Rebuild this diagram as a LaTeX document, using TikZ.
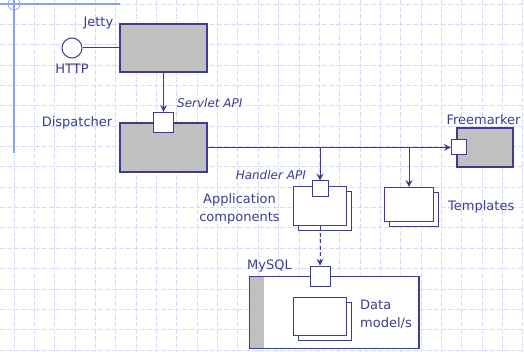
\documentclass[tikz,border=0pt]{standalone}
\usepackage{fontspec}
\setmainfont{DejaVu Sans}
\usepackage{tikz}
\usetikzlibrary{arrows.meta,positioning}

\definecolor{navy}{RGB}{60,60,145}
\definecolor{compgray}{RGB}{192,192,192}
\definecolor{gridblue}{RGB}{212,220,250}
\definecolor{railblue}{RGB}{140,162,240}

\begin{document}
\begin{tikzpicture}[
x=1pt, y=-1pt,
comp/.style={
    rectangle,
    draw=navy,
    line width=1.1pt,
    fill=compgray,
    inner sep=0pt
},
artifact/.style={
    rectangle,
    draw=navy,
    line width=1pt,
    fill=white,
    inner sep=0pt
},
port/.style={
    rectangle,
    draw=navy,
    line width=1pt,
    fill=white,
    inner sep=0pt
},
lbl/.style={
    text=navy,
    inner sep=1pt,
    font=\fontsize{13}{18}\selectfont
},
api/.style={
    text=navy,
    inner sep=1pt,
    font=\fontsize{12}{14}\selectfont\itshape
},
arr/.style={-{Stealth[length=7pt,width=7pt,inset=2.5pt]}, draw=navy, line width=1pt}
]
\useasboundingbox (0,0) rectangle (524,352);

% slide background
\foreach \k in {0,...,25}
    \draw[gridblue, line width=0.8pt, dash pattern=on 5pt off 2pt] (14+20.35*\k,0) -- (14+20.35*\k,352);
\foreach \k in {0,...,17}
    \draw[gridblue, line width=0.8pt, dash pattern=on 5pt off 2pt] (0,4+20.35*\k) -- (524,4+20.35*\k);
\draw[railblue, line width=2pt] (0,4) -- (120,4);
\draw[railblue, line width=2pt] (14,0) -- (14,153);
\draw[railblue, line width=0.8pt] (14,4) circle[radius=6];

% components
\node[comp, minimum width=87pt, minimum height=48pt] (jetty) at (163.5,48) {};
\node[comp, minimum width=87pt, minimum height=49pt] (dispatcher) at (163.5,147.5) {};
\node[port, minimum size=20pt] (dport) at (dispatcher.north) {};
\node[comp, minimum width=56pt, minimum height=39pt] (freemarker) at (485,147.5) {};
\node[port, minimum size=15pt] (fport) at ([xshift=2.5pt]freemarker.west) {};
\node[circle, draw=navy, line width=1pt, fill=white, minimum size=20pt, inner sep=0pt] (http) at (72,48) {};

% application components
\node[artifact, minimum width=53pt, minimum height=39pt] (aback) at (325,211.5) {};
\node[artifact, minimum width=53pt, minimum height=39pt] (afront) at (320,206.5) {};
\node[port, minimum size=16pt] (aport) at (320,189) {};

% templates
\node[artifact, minimum width=49pt, minimum height=34pt] (tback) at (414,209.5) {};
\node[artifact, minimum width=49pt, minimum height=34pt] (tfront) at (409,204.5) {};

% database
\node[artifact, minimum width=168.7pt, minimum height=71.6pt] (mysql) at (334.3,312.5) {};
\fill[compgray] ([shift={(0.5pt,-0.5pt)}]mysql.north west) rectangle ([xshift=15pt, yshift=0.5pt]mysql.south west);
\draw[navy, line width=1pt] (mysql.north west) rectangle (mysql.south east);
\node[port, minimum size=20pt] (mport) at (mysql.north -| afront) {};
\node[artifact, minimum width=53pt, minimum height=38pt] (dback) at (325,321.5) {};
\node[artifact, minimum width=53pt, minimum height=38pt] (dfront) at (320,316.5) {};

% labels
\node[lbl, left=5pt of jetty.north west] {Jetty};
\node[lbl, below=4pt of http] {HTTP};
\node[lbl, left=6pt of dispatcher.north west] {Dispatcher};
\node[api, anchor=west] at (176,103) {Servlet API};
\node[lbl, above=2pt of freemarker.north, xshift=-1.5pt] {Freemarker};
\node[api, anchor=east] at (307,175) {Handler API};
\node[lbl, align=center] at (239.5,208.5) {Application\\components};
\node[lbl, anchor=west] at (447,206.5) {Templates};
\node[lbl, anchor=west] at (246,266) {MySQL};
\node[lbl, align=left, anchor=west] at (359,314) {Data\\model/s};

% connectors
\draw[navy, line width=1pt] (http) -- (jetty);
\draw[arr] (jetty.south) -- (dport.north);
\draw[arr] (dispatcher.east |- fport) -- (fport.west);
\draw[arr] (dispatcher.east -| aport) -- (aport.north);
\draw[arr] (dispatcher.east -| tfront) -- (tfront.north);
\draw[arr, dash pattern=on 4pt off 2.5pt] (afront.south) -- (mport.north);
\end{tikzpicture}
\end{document}
